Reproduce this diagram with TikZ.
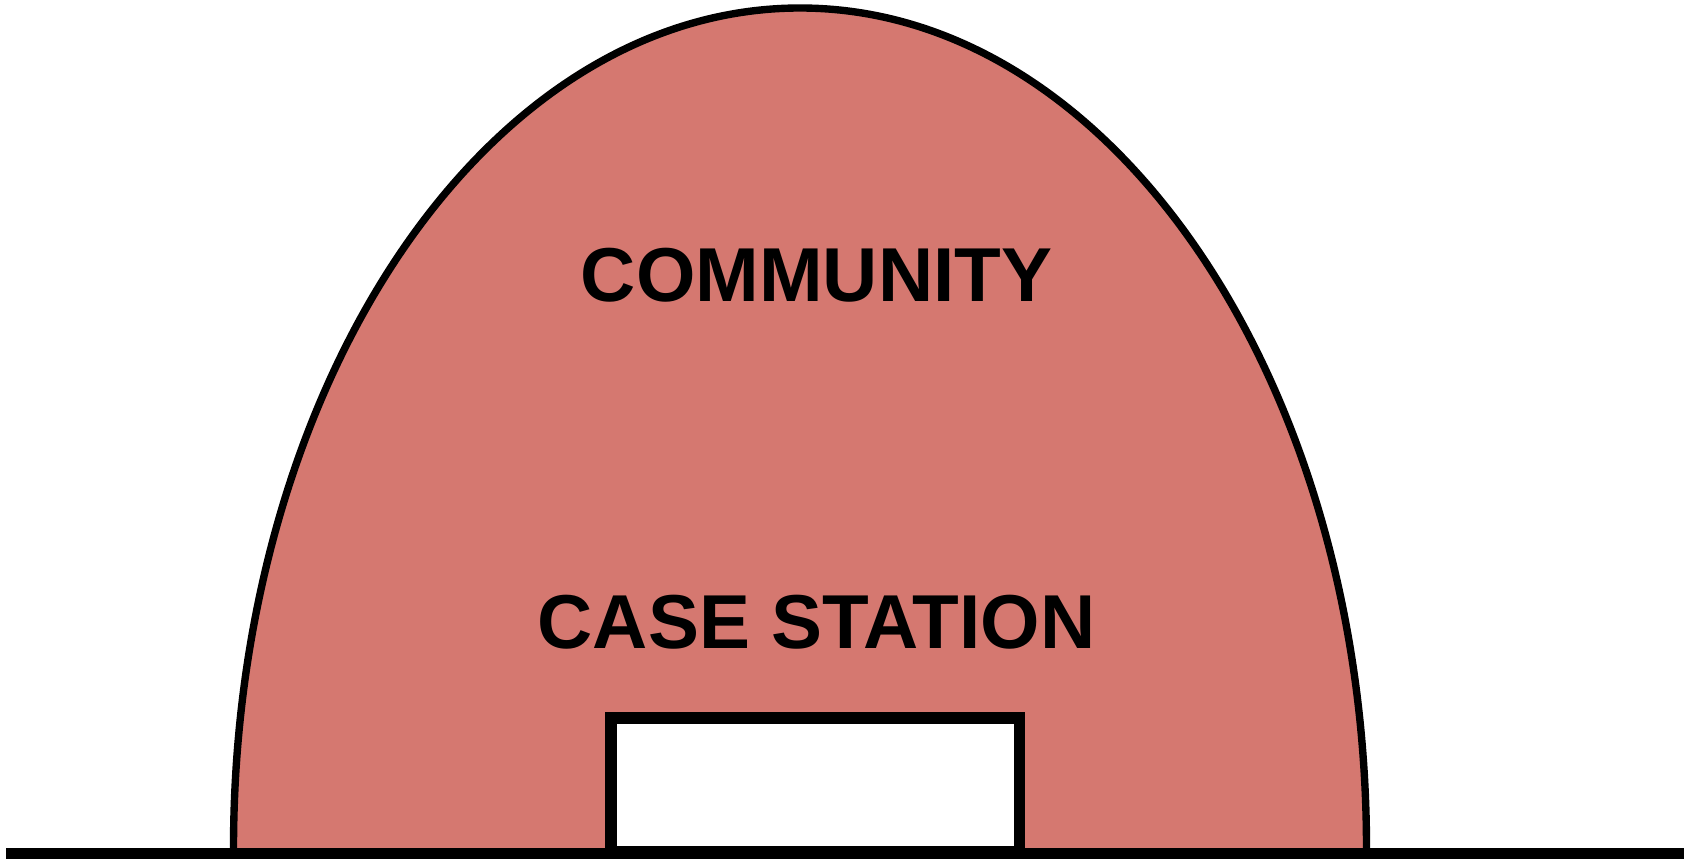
\documentclass[tikz,border=0pt]{standalone}
\usepackage{fontspec}
\setmainfont{Liberation Sans}
\definecolor{domeFill}{RGB}{213,120,112}

\begin{document}
\begin{tikzpicture}[
    x=0.02cm, y=-0.02cm,
    domeLine/.style={line width=4.2pt},
    heavyLine/.style={line width=6.8pt},
    bigText/.style={font=\fontsize{43.5}{43.5}\selectfont\bfseries}
]
    \useasboundingbox (0,0) rectangle (1698,859);

    % ================= dome =================
    \filldraw[fill=domeFill, draw=black, domeLine]
        (233.5,849) arc[start angle=180, end angle=360, x radius=566.5, y radius=841];

    % ================= station box =================
    \draw[heavyLine, fill=white] (611,852) rectangle (1019.5,718.3);

    % ================= ground =================
    \draw[heavyLine] (6,854) -- (1684,854);

    % ================= labels =================
    \node[bigText] (community) at (816.5,275) {COMMUNITY};
    \node[bigText] (caseStation) at (816.5,622) {CASE STATION};

\end{tikzpicture}
\end{document}
